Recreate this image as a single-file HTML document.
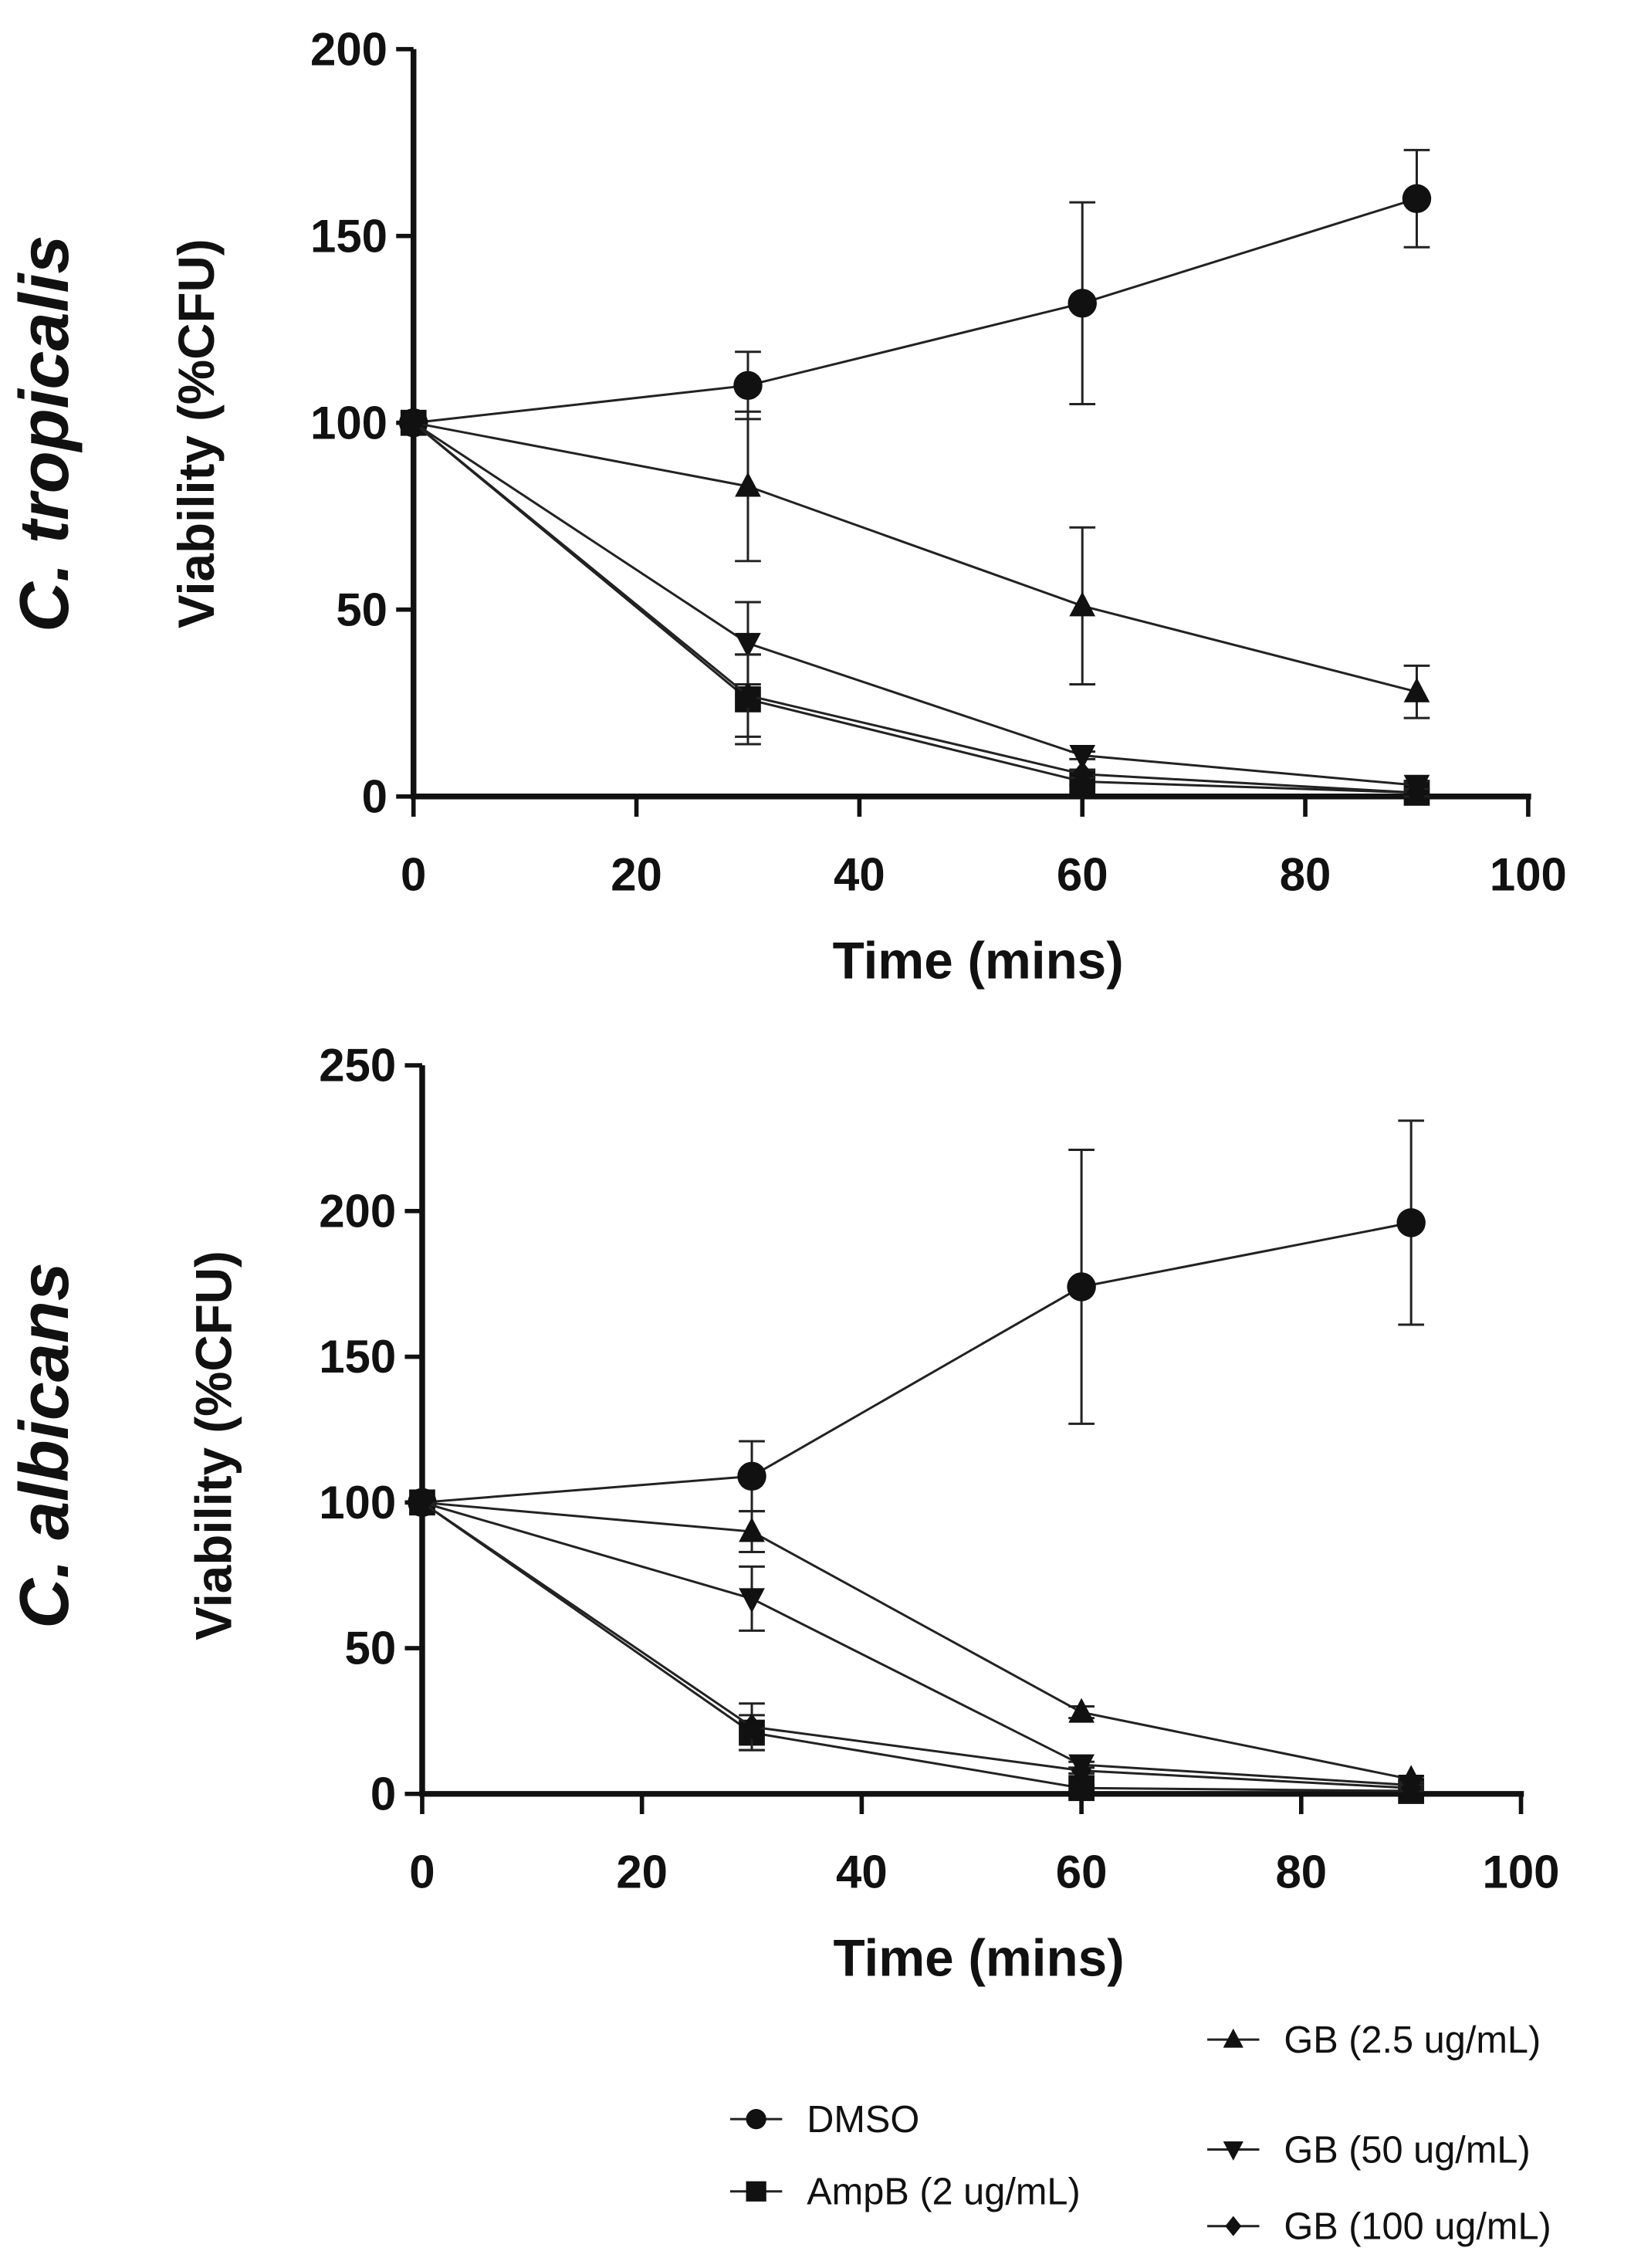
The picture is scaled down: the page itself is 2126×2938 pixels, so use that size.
<!DOCTYPE html>
<html><head><meta charset="utf-8"><style>
html,body{margin:0;padding:0;background:#fff}
svg{display:block}
text{font-family:"Liberation Sans",Arial,sans-serif;fill:#111}
</style></head><body>
<svg id="fig" width="2126" height="2938" viewBox="0 0 1135 1569" preserveAspectRatio="none" xmlns="http://www.w3.org/2000/svg"></svg>
<script>
const times = [0, 30, 60, 90];
const seriesNames = ["DMSO","AmpB (2 ug/mL)","GB (2.5 ug/mL)","GB (50 ug/mL)","GB (100 ug/mL)"];
const markers = ["circle","square","up","down","diamond"];
const xTicks = [0,20,40,60,80,100];
const topYTicks = [0,50,100,150,200];
const botYTicks = [0,50,100,150,200,250];
// top: C. tropicalis
const topDMSO = [100,110,132,160];   const topDMSOErr = [0,9,27,13];
const topAmpB = [100,26,4,1];        const topAmpBErr = [0,12,1,1];
const topGB25 = [100,83,51,28];      const topGB25Err = [0,20,21,7];
const topGB50 = [100,41,11,3];       const topGB50Err = [0,11,1,1];
const topGB100 = [100,27,6,1];       const topGB100Err = [0,11,1,1];
// bottom: C. albicans
const botDMSO = [100,109,174,196];   const botDMSOErr = [0,12,47,35];
const botAmpB = [100,21,2,1];        const botAmpBErr = [0,6,1,1];
const botGB25 = [100,90,28,5];       const botGB25Err = [0,7,2,1];
const botGB50 = [100,67,10,3];       const botGB50Err = [0,11,1,1];
const botGB100 = [100,23,8,2];       const botGB100Err = [0,8,1,1];

const NS="http://www.w3.org/2000/svg";
const svg=document.getElementById('fig');
function mk(tag,attrs,parent){const e=document.createElementNS(NS,tag);for(const k in attrs)e.setAttribute(k,attrs[k]);(parent||svg).appendChild(e);return e;}

function marker(g,type,cx,cy,s){
  let e;
  if(type==="circle") e=mk('circle',{cx:cx,cy:cy,r:s},g);
  else if(type==="square") e=mk('rect',{x:cx-s,y:cy-s,width:2*s,height:2*s},g);
  else if(type==="up") e=mk('polygon',{points:`${cx},${cy-s*1.1} ${cx-s},${cy+s*0.8} ${cx+s},${cy+s*0.8}`},g);
  else if(type==="down") e=mk('polygon',{points:`${cx},${cy+s*1.1} ${cx-s},${cy-s*0.8} ${cx+s},${cy-s*0.8}`},g);
  else e=mk('polygon',{points:`${cx},${cy-s} ${cx+s*0.8},${cy} ${cx},${cy+s} ${cx-s*0.8},${cy}`},g);
  e.setAttribute('fill','#111');
  return e;
}

function chart(cfg){
  const {x0,x1,y0,yTop,yMax,yTicks,series,errs,species,ylabCx,ylabCy,spCx,key}=cfg;
  const X=v=>x0+(v/100)*(x1-x0);
  const Y=v=>y0-(v/yMax)*(y0-yTop);
  const g=mk('g',{});
  
  
  const ya=mk('line',{x1:x0,y1:yTop,x2:x0,y2:y0,stroke:'#111','stroke-width':4},g);
  
  const xa=mk('line',{x1:x0-2,y1:y0,x2:x1+2,y2:y0,stroke:'#111','stroke-width':4},g);
  
  yTicks.forEach(t=>{
    mk('line',{x1:x0-12,y1:Y(t),x2:x0,y2:Y(t),stroke:'#111','stroke-width':3},g);
    const tx=mk('text',{x:x0-18,y:Y(t)+11,'text-anchor':'end','font-size':32,'font-weight':'bold'},g);
    tx.textContent=t;
    
  });
  xTicks.forEach(t=>{
    mk('line',{x1:X(t),y1:y0,x2:X(t),y2:y0+14,stroke:'#111','stroke-width':3},g);
    const tx=mk('text',{x:X(t),y:y0+65,'text-anchor':'middle','font-size':32,'font-weight':'bold'},g);
    tx.textContent=t;
    
  });
  const xt=mk('text',{x:(x0+x1)/2+5,y:y0+126,'text-anchor':'middle','font-size':36,'font-weight':'bold'},g);
  xt.textContent='Time (mins)';
  
  const yt=mk('text',{x:0,y:0,'text-anchor':'middle','font-size':35,'font-weight':'bold',transform:`translate(${ylabCx+12},${ylabCy}) rotate(-90)`},g);
  yt.textContent='Viability (%CFU)';
  
  const sp=mk('text',{x:0,y:0,'text-anchor':'middle','font-size':48,'font-weight':'bold','font-style':'italic',transform:`translate(${spCx+17},${ylabCy}) rotate(-90)`},g);
  sp.textContent='C. '+species;
  
  series.forEach((vals,i)=>{
    const sg=mk('g',{},g);
    
    
    const pts=vals.map((v,j)=>X(times[j])+','+Y(v)).join(' ');
    mk('polyline',{points:pts,fill:'none',stroke:'#222','stroke-width':1.6},sg);
    vals.forEach((v,j)=>{
      const e=errs[i][j];
      if(e>0){
        const cx=X(times[j]);
        mk('line',{x1:cx,y1:Y(v+e),x2:cx,y2:Y(v-e),stroke:'#222','stroke-width':1.6},sg);
        mk('line',{x1:cx-9,y1:Y(v+e),x2:cx+9,y2:Y(v+e),stroke:'#222','stroke-width':1.6},sg);
        mk('line',{x1:cx-9,y1:Y(v-e),x2:cx+9,y2:Y(v-e),stroke:'#222','stroke-width':1.6},sg);
      }
      const m=marker(sg,markers[i],X(times[j]),Y(v),markers[i]==='circle'?10:9);
      
      
    });
  });
}

chart({x0:286,x1:1057,y0:551,yTop:34,yMax:200,yTicks:topYTicks,
  series:[topDMSO,topAmpB,topGB25,topGB50,topGB100],
  errs:[topDMSOErr,topAmpBErr,topGB25Err,topGB50Err,topGB100Err],
  species:'tropicalis',ylabCx:136,ylabCy:300,spCx:30,key:'tropicalis'});
chart({x0:292,x1:1052,y0:1241,yTop:737,yMax:250,yTicks:botYTicks,
  series:[botDMSO,botAmpB,botGB25,botGB50,botGB100],
  errs:[botDMSOErr,botAmpBErr,botGB25Err,botGB50Err,botGB100Err],
  species:'albicans',ylabCx:148,ylabCy:1000,spCx:30,key:'albicans'});

const legendPos=[[505,1466],[505,1516],[835,1411],[835,1487],[835,1540]];
const lg=mk('g',{});


seriesNames.forEach((n,i)=>{
  const [lx,ly]=legendPos[i];
  const eg=mk('g',{},lg);
  
  
  mk('line',{x1:lx,y1:ly,x2:lx+36,y2:ly,stroke:'#222','stroke-width':1.6},eg);
  marker(eg,markers[i],lx+18,ly,7);
  const t=mk('text',{x:lx+53,y:ly+9,'font-size':26},eg);
  t.textContent=n;
});
</script>
</body></html>
